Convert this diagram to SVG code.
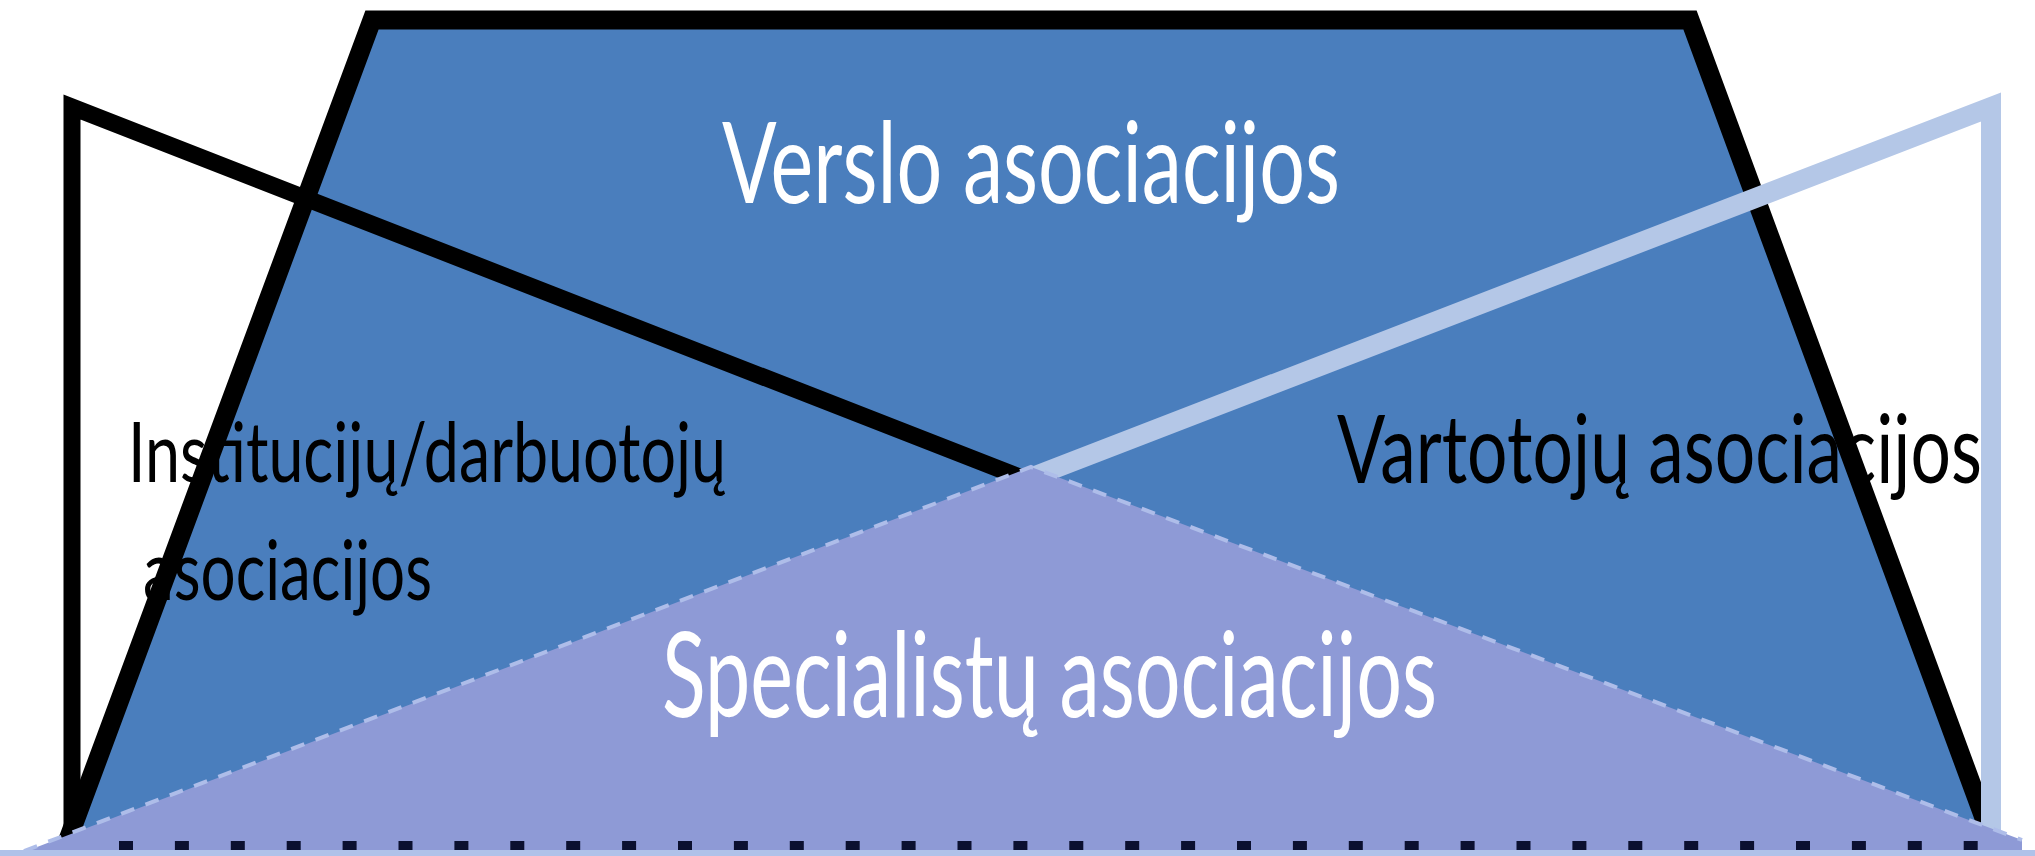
<svg xmlns="http://www.w3.org/2000/svg" width="2035" height="856" viewBox="0 0 2035 856">
  <style>
    .lbl { font-family: Lato, "Open Sans", "Liberation Sans", sans-serif; }
    .white { fill: #ffffff; }
    .dark { fill: #000000; }
  </style>
  <rect x="0" y="0" width="2035" height="856" fill="#ffffff"/>
  <g id="verslo">
    <polygon points="66,845 372,20 1690,20 1994,845" fill="#4a7ebd"/>
    <path d="M66,845 L372,20 L1690,20 L1994,845" fill="none" stroke="#000000" stroke-width="19" stroke-linejoin="miter"/>
  </g>
  <g id="connectors">
    <path d="M72,845 L72,107 L1027,480" fill="none" stroke="#000000" stroke-width="17" stroke-linejoin="miter"/>
    <path d="M1991,845 L1991,107 L1030,478" fill="none" stroke="#b4c7e7" stroke-width="20" stroke-linejoin="miter"/>
  </g>
  <g id="specialistu">
    <polygon points="1031,467 2022,840 2022,850 22,850 24,852" fill="#8e9ad6"/>
    <path d="M24,851 L1031,467 L2022,840" fill="none" stroke="#aebde9" stroke-width="4" stroke-dasharray="14 12"/>
    <rect x="0" y="850" width="2035" height="6" fill="#afc2e9"/>
    <line x1="119" y1="845.5" x2="1980" y2="845.5" stroke="#0b1030" stroke-width="9" stroke-dasharray="14 41.9"/>
  </g>
  <g id="label-verslo">
    <text class="lbl white" x="722" y="203" font-size="113" textLength="618" lengthAdjust="spacingAndGlyphs">Verslo asociacijos</text>
  </g>
  <g id="label-institucijos">
    <text class="lbl dark" x="128" y="482" font-size="84" textLength="598" lengthAdjust="spacingAndGlyphs">Institucijų/darbuotojų</text>
    <text class="lbl dark" x="143" y="600" font-size="84" textLength="289" lengthAdjust="spacingAndGlyphs">asociacijos</text>
  </g>
  <g id="label-vartotoju">
    <text class="lbl dark" x="1337" y="483" font-size="95" textLength="645" lengthAdjust="spacingAndGlyphs">Vartotojų asociacijos</text>
  </g>
  <g id="label-specialistu">
    <text class="lbl white" x="662" y="717" font-size="119" textLength="775" lengthAdjust="spacingAndGlyphs">Specialistų asociacijos</text>
  </g>
</svg>
